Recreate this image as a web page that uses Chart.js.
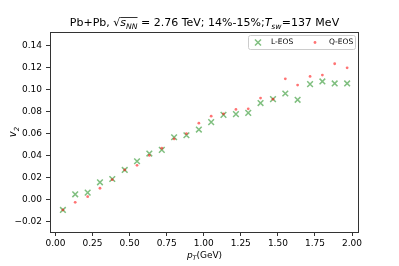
<!DOCTYPE html>
<html>
<head>
<meta charset="utf-8">
<script src="https://cdn.jsdelivr.net/npm/chart.js@4/dist/chart.umd.min.js"></script>
<style>
  html, body { margin: 0; padding: 0; background: #fff; }
  #wrap { width: 399px; height: 266px; }
</style>
</head>
<body>
<div id="wrap"><canvas id="v2Chart" width="399" height="266"></canvas></div>
<script>
// transverse momentum bins (GeV)
const pT = [0.05, 0.133, 0.217, 0.3, 0.383, 0.467, 0.55, 0.633, 0.717, 0.8, 0.883, 0.967,
            1.05, 1.133, 1.217, 1.3, 1.383, 1.467, 1.55, 1.633, 1.717, 1.8, 1.883, 1.967];
const v2LEOS = [-0.0095, 0.0047, 0.0062, 0.0156, 0.0186, 0.0268, 0.0347, 0.0417, 0.045, 0.0565, 0.0583, 0.0635,
                0.0702, 0.0768, 0.0775, 0.0786, 0.0875, 0.0911, 0.0962, 0.0905, 0.1047, 0.1071, 0.1053, 0.1053];
const v2QEOS = [-0.0095, -0.0026, 0.0026, 0.0102, 0.018, 0.0268, 0.031, 0.040, 0.0465, 0.055, 0.0598, 0.0693,
                0.0756, 0.0777, 0.0817, 0.0823, 0.092, 0.091, 0.1095, 0.1038, 0.1117, 0.1129, 0.1232, 0.1195];
const xTicks = [0, 0.25, 0.5, 0.75, 1.0, 1.25, 1.5, 1.75, 2.0];
const yTicks = [-0.02, 0, 0.02, 0.04, 0.06, 0.08, 0.1, 0.12, 0.14];
const seriesNames = ["L-EOS", "Q-EOS"];

const FONT = "DejaVu Sans";
const greenX = "rgba(0,128,0,0.5)";
const redDot = "rgba(255,0,0,0.55)";

function fmt(v) {
  const s = Math.abs(v).toFixed(2);
  return v < -1e-9 ? "\u2212" + s : s;
}

// draw a run of [text, style] pieces; style: "n" normal, "i" italic, "s" italic subscript
function runWidth(ctx, parts, size) {
  let w = 0;
  parts.forEach(([t, st]) => {
    const sz = st === "s" ? size * 0.7 : size;
    ctx.font = (st === "n" ? "" : "italic ") + sz + "px '" + FONT + "'";
    w += ctx.measureText(t).width;
  });
  return w;
}
function drawRun(ctx, parts, x, y, size) {
  const marks = [];
  parts.forEach(([t, st]) => {
    const sz = st === "s" ? size * 0.7 : size;
    ctx.font = (st === "n" ? "" : "italic ") + sz + "px '" + FONT + "'";
    const dy = st === "s" ? size * 0.25 : 0;
    ctx.fillText(t, x, y + dy);
    marks.push(x);
    x += ctx.measureText(t).width;
  });
  marks.push(x);
  return marks;
}

const decorations = {
  id: "decorations",
  afterDraw(chart) {
    const ctx = chart.ctx;
    const a = chart.chartArea;
    ctx.save();
    // frame
    ctx.strokeStyle = "#333";
    ctx.lineWidth = 1;
    ctx.strokeRect(Math.round(a.left) + 0.5, Math.round(a.top) + 0.5,
                   Math.round(a.right - a.left) - 1, Math.round(a.bottom - a.top));
    ctx.fillStyle = "#000";
    ctx.textBaseline = "alphabetic";
    ctx.textAlign = "left";

    // title
    const tsize = 11;
    const title = [["Pb+Pb, ", "n"], ["\u221A", "n"], ["s", "i"], ["NN", "s"],
                   [" = 2.76 TeV; 14%-15%;", "n"], ["T", "i"], ["sw", "s"], ["=137 MeV", "n"]];
    const tw = runWidth(ctx, title, tsize);
    const tx = (a.left + a.right) / 2 - tw / 2;
    const m = drawRun(ctx, title, tx, 26, tsize);
    // overline of the square root
    ctx.beginPath();
    ctx.moveTo(m[2], 17.5);
    ctx.lineTo(m[4], 17.5);
    ctx.lineWidth = 0.8;
    ctx.strokeStyle = "#000";
    ctx.stroke();

    // x label
    const xl = [["p", "i"], ["T", "s"], ["(GeV)", "n"]];
    const xw = runWidth(ctx, xl, 9);
    drawRun(ctx, xl, (a.left + a.right) / 2 - xw / 2, 258, 9);

    // y label
    ctx.save();
    ctx.translate(16, (a.top + a.bottom) / 2);
    ctx.rotate(-Math.PI / 2);
    const yl = [["v", "i"], ["2", "s"]];
    const yw = runWidth(ctx, yl, 10);
    drawRun(ctx, yl, -yw / 2, 0, 10);
    ctx.restore();

    // legend
    const lx = 248, ly = 35, lw = 107, lh = 14;
    ctx.fillStyle = "rgba(255,255,255,0.8)";
    ctx.strokeStyle = "#ccc";
    ctx.lineWidth = 1;
    ctx.beginPath();
    ctx.roundRect(lx + 0.5, ly + 0.5, lw, lh, 2);
    ctx.fill();
    ctx.stroke();
    const cy = ly + lh / 2 + 0.5;
    ctx.strokeStyle = greenX;
    ctx.lineWidth = 1.5;
    ctx.beginPath();
    ctx.moveTo(255, cy - 3); ctx.lineTo(261, cy + 3);
    ctx.moveTo(255, cy + 3); ctx.lineTo(261, cy - 3);
    ctx.stroke();
    ctx.fillStyle = redDot;
    ctx.beginPath();
    ctx.arc(315, cy, 1.4, 0, Math.PI * 2);
    ctx.fill();
    ctx.fillStyle = "#000";
    ctx.font = "7.5px '" + FONT + "'";
    ctx.textBaseline = "middle";
    ctx.fillText(seriesNames[0], 271, cy);
    ctx.fillText(seriesNames[1], 329, cy);
    ctx.restore();
  }
};

const canvas = document.getElementById("v2Chart");
new Chart(canvas, {
  type: "scatter",
  data: {
    datasets: [
      {label: seriesNames[0], data: pT.map((x, i) => ({x: x, y: v2LEOS[i]})), order: 2,
       pointStyle: "crossRot", pointRadius: 4, borderColor: greenX, borderWidth: 1.5, pointHoverRadius: 4},
      {label: seriesNames[1], data: pT.map((x, i) => ({x: x, y: v2QEOS[i]})), order: 1,
       pointStyle: "circle", pointRadius: 1.4, backgroundColor: redDot, borderWidth: 0, pointHoverRadius: 1.4}
    ]
  },
  options: {
    responsive: false,
    animation: false,
    devicePixelRatio: 1,
    layout: {padding: {top: 32, right: 40, left: 0, bottom: 0}},
    plugins: {legend: {display: false}, tooltip: {enabled: false}, title: {display: false}},
    scales: {
      x: {
        type: "linear", min: -0.037, max: 2.047,
        afterFit: s => { s.height = 34; },
        afterBuildTicks: s => { s.ticks = xTicks.map(v => ({value: v})); },
        grid: {display: true, drawOnChartArea: false, drawTicks: true, tickLength: 4, tickColor: "#333"},
        border: {display: false},
        ticks: {autoSkip: false, maxRotation: 0, padding: 2, color: "#000",
                font: {family: FONT, size: 9}, callback: v => fmt(v)}
      },
      y: {
        type: "linear", min: -0.0295, max: 0.152,
        afterFit: s => { s.width = 50; },
        afterBuildTicks: s => { s.ticks = yTicks.map(v => ({value: v})); },
        grid: {display: true, drawOnChartArea: false, drawTicks: true, tickLength: 4, tickColor: "#333"},
        border: {display: false},
        ticks: {autoSkip: false, padding: 4, color: "#000",
                font: {family: FONT, size: 9}, callback: v => fmt(v)}
      }
    }
  },
  plugins: [decorations]
});
</script>
</body>
</html>
